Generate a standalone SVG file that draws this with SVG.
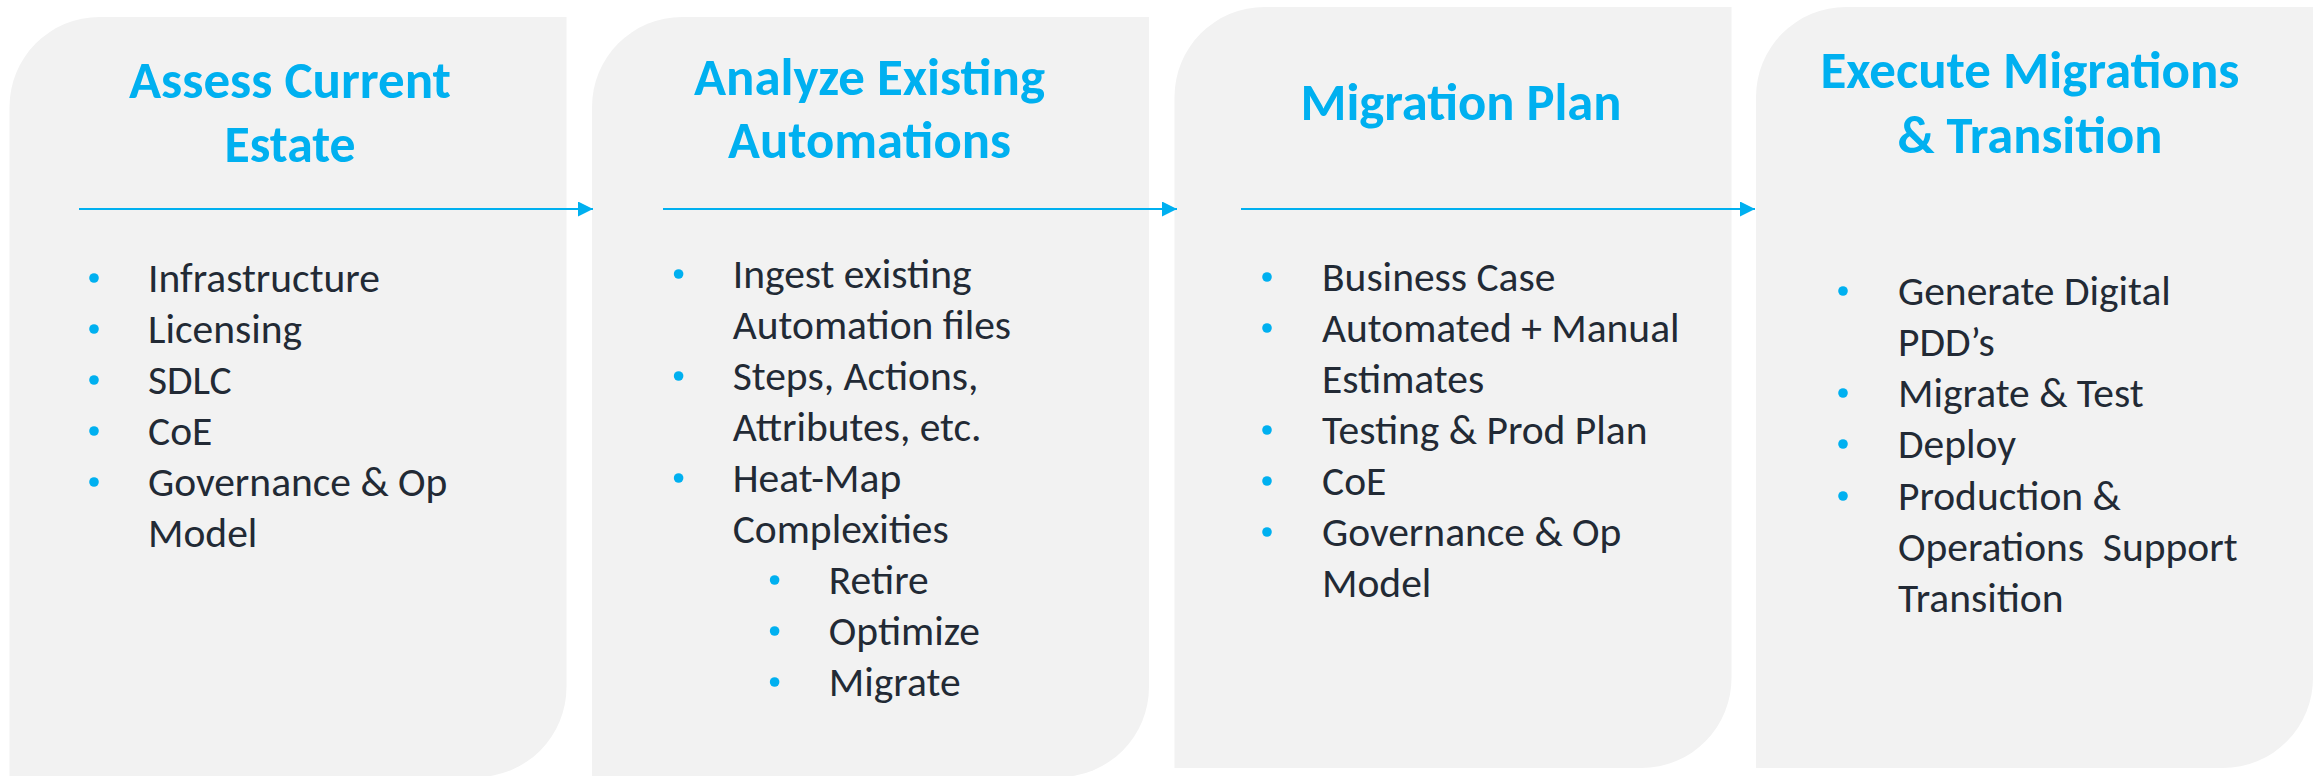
<svg xmlns="http://www.w3.org/2000/svg" width="2320" height="776" viewBox="0 0 2320 776">
  <style>
    .box { fill: #F2F2F2; }
    .title { font-family: Carlito, Lato, "Open Sans", sans-serif; font-weight: 700; font-size: 53px; fill: #00B0F0; text-anchor: middle; }
    .body { font-family: Carlito, "Lato Light", Lato, "Open Sans", sans-serif; font-weight: 300; font-size: 41.5px; fill: #222A35; white-space: pre; }
    .dot { fill: #00B0F0; }
    .conn { stroke: #00B0F0; stroke-width: 2; fill: none; marker-end: url(#arrow); }
  </style>
  <defs>
    <marker id="arrow" viewBox="0 0 15 15" refX="15" refY="7.5" markerWidth="15" markerHeight="15" markerUnits="userSpaceOnUse" orient="auto">
      <path d="M0,0 L15,7.5 L0,15 Z" fill="#00B0F0"/>
    </marker>
  </defs>

  <g id="node-assess">
    <path class="box" d="M99.5,17 H566.5 V687 A90,90 0 0 1 476.5,777 H9.5 V107 A90,90 0 0 1 99.5,17 Z"/>
    <text class="title" x="290" y="98" textLength="322" lengthAdjust="spacingAndGlyphs">Assess Current</text>
    <text class="title" x="290" y="162" textLength="131" lengthAdjust="spacingAndGlyphs">Estate</text>
    <circle class="dot" cx="94" cy="278" r="4.8"/>
    <text class="body" x="148" y="292">Infrastructure</text>
    <circle class="dot" cx="94" cy="329" r="4.8"/>
    <text class="body" x="148" y="343">Licensing</text>
    <circle class="dot" cx="94" cy="380" r="4.8"/>
    <text class="body" x="148" y="394">SDLC</text>
    <circle class="dot" cx="94" cy="431" r="4.8"/>
    <text class="body" x="148" y="445">CoE</text>
    <circle class="dot" cx="94" cy="482" r="4.8"/>
    <text class="body" x="148" y="496">Governance &amp; Op</text>
    <text class="body" x="148" y="547">Model</text>
  </g>

  <g id="node-analyze">
    <path class="box" d="M682,17 H1149 V687 A90,90 0 0 1 1059,777 H592 V107 A90,90 0 0 1 682,17 Z"/>
    <text class="title" x="869.5" y="95" textLength="351" lengthAdjust="spacingAndGlyphs">Analyze Existing</text>
    <text class="title" x="869.5" y="158" textLength="283" lengthAdjust="spacingAndGlyphs">Automations</text>
    <circle class="dot" cx="678.6" cy="274" r="4.8"/>
    <text class="body" x="732.7" y="288">Ingest existing</text>
    <text class="body" x="732.7" y="339">Automation files</text>
    <circle class="dot" cx="678.6" cy="376" r="4.8"/>
    <text class="body" x="732.7" y="390">Steps, Actions,</text>
    <text class="body" x="732.7" y="441">Attributes, etc.</text>
    <circle class="dot" cx="678.6" cy="478" r="4.8"/>
    <text class="body" x="732.7" y="492">Heat-Map</text>
    <text class="body" x="732.7" y="543">Complexities</text>
    <circle class="dot" cx="774.6" cy="580" r="4.8"/>
    <text class="body" x="828.8" y="594">Retire</text>
    <circle class="dot" cx="774.6" cy="631" r="4.8"/>
    <text class="body" x="828.8" y="645">Optimize</text>
    <circle class="dot" cx="774.6" cy="682" r="4.8"/>
    <text class="body" x="828.8" y="696">Migrate</text>
  </g>

  <g id="node-plan">
    <path class="box" d="M1264.5,7 H1731.5 V677 A90,90 0 0 1 1641.5,768 H1174.5 V97 A90,90 0 0 1 1264.5,7 Z"/>
    <text class="title" x="1461" y="120" textLength="321" lengthAdjust="spacingAndGlyphs">Migration Plan</text>
    <circle class="dot" cx="1267" cy="277" r="4.8"/>
    <text class="body" x="1322" y="291">Business Case</text>
    <circle class="dot" cx="1267" cy="328" r="4.8"/>
    <text class="body" x="1322" y="342">Automated + Manual</text>
    <text class="body" x="1322" y="393">Estimates</text>
    <circle class="dot" cx="1267" cy="430" r="4.8"/>
    <text class="body" x="1322" y="444">Testing &amp; Prod Plan</text>
    <circle class="dot" cx="1267" cy="481" r="4.8"/>
    <text class="body" x="1322" y="495">CoE</text>
    <circle class="dot" cx="1267" cy="532" r="4.8"/>
    <text class="body" x="1322" y="546">Governance &amp; Op</text>
    <text class="body" x="1322" y="597">Model</text>
  </g>

  <g id="node-execute">
    <path class="box" d="M1846,7 H2313 V677 A90,90 0 0 1 2223,768 H1756 V97 A90,90 0 0 1 1846,7 Z"/>
    <text class="title" x="2030" y="88" textLength="419" lengthAdjust="spacingAndGlyphs">Execute Migrations</text>
    <text class="title" x="2030" y="153" textLength="265" lengthAdjust="spacingAndGlyphs">&amp; Transition</text>
    <circle class="dot" cx="1843" cy="291" r="4.8"/>
    <text class="body" x="1898" y="305">Generate Digital</text>
    <text class="body" x="1898" y="356">PDD’s</text>
    <circle class="dot" cx="1843" cy="393" r="4.8"/>
    <text class="body" x="1898" y="407">Migrate &amp; Test</text>
    <circle class="dot" cx="1843" cy="444" r="4.8"/>
    <text class="body" x="1898" y="458">Deploy</text>
    <circle class="dot" cx="1843" cy="496" r="4.8"/>
    <text class="body" x="1898" y="510">Production &amp;</text>
    <text class="body" x="1898" y="561" xml:space="preserve">Operations  Support</text>
    <text class="body" x="1898" y="612">Transition</text>
  </g>

  <g id="connectors">
    <line class="conn" x1="79" y1="209" x2="593" y2="209"/>
    <line class="conn" x1="663" y1="209" x2="1177" y2="209"/>
    <line class="conn" x1="1241" y1="209" x2="1755" y2="209"/>
  </g>
</svg>
